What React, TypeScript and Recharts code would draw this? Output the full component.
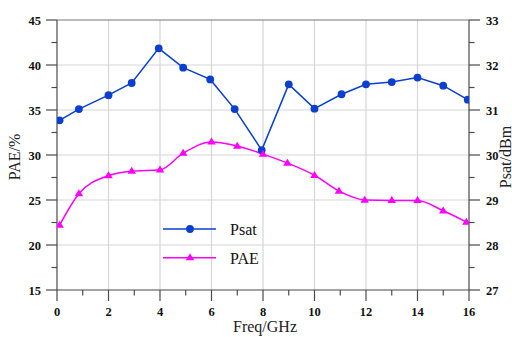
import React from 'react';
import {
  LineChart,
  Line,
  XAxis,
  YAxis,
  CartesianGrid,
  ReferenceLine,
  Legend,
} from 'recharts';

// Saturated output power (dBm) vs frequency (GHz)
const psatFreq = [0.1, 0.85, 2, 2.9, 3.95, 4.9, 5.95, 6.9, 7.95, 9, 10, 11.05, 12, 13, 14, 15, 15.95];
const psatValues = [30.77, 31.02, 31.33, 31.6, 32.37, 31.94, 31.68, 31.02, 30.11, 31.57, 31.03, 31.35, 31.57, 31.62, 31.72, 31.54, 31.23];

// Power-added efficiency (%) vs frequency (GHz)
const paeFreq = [0.1, 0.85, 2, 2.9, 4, 4.9, 6, 7, 8, 8.95, 10, 10.95, 11.95, 13, 14, 15, 15.9];
const paeValues = [22.2, 25.7, 27.7, 28.2, 28.35, 30.2, 31.45, 31.0, 30.1, 29.1, 27.75, 26.0, 25.0, 24.95, 24.95, 23.8, 22.55];

// Axis ticks (majors are labelled, the rest are minor marks)
const freqTicks = [0, 1, 2, 3, 4, 5, 6, 7, 8, 9, 10, 11, 12, 13, 14, 15, 16];
const freqMajor = [0, 2, 4, 6, 8, 10, 12, 14, 16];
const paeTicks = [15, 17.5, 20, 22.5, 25, 27.5, 30, 32.5, 35, 37.5, 40, 42.5, 45];
const paeMajor = [15, 20, 25, 30, 35, 40, 45];
const psatTicks = [27, 27.5, 28, 28.5, 29, 29.5, 30, 30.5, 31, 31.5, 32, 32.5, 33];
const psatMajor = [27, 28, 29, 30, 31, 32, 33];

const psatRows = psatFreq.map((f, i) => ({ freq: f, psat: psatValues[i] }));
const paeRows = paeFreq.map((f, i) => ({ freq: f, pae: paeValues[i] }));

const BLUE = '#0a3fd0';
const MAGENTA = '#ff00ff';
const AXIS = '#4a4a4a';
const SERIF = '"Liberation Serif", "Times New Roman", serif';
const MAJOR_LEN = 11;
const MINOR_LEN = 5.5;

const tickText = {
  fontFamily: SERIF,
  fontSize: 12.5,
  fontWeight: 700,
  fill: '#111',
};

function XTick(props: any) {
  const { x, y, payload } = props;
  const major = freqMajor.includes(payload.value);
  return (
    <g>
      <line x1={x} x2={x} y1={y} y2={y + (major ? MAJOR_LEN : MINOR_LEN)} stroke={AXIS} strokeWidth={1.2} />
      {major && (
        <text x={x} y={y + 26} textAnchor="middle" style={tickText}>
          {payload.value}
        </text>
      )}
    </g>
  );
}

function LeftTick(props: any) {
  const { x, y, payload } = props;
  const major = paeMajor.includes(payload.value);
  return (
    <g>
      <line x1={x} x2={x - (major ? MAJOR_LEN : MINOR_LEN)} y1={y} y2={y} stroke={AXIS} strokeWidth={1.2} />
      {major && (
        <text x={x - 16} y={y + 4.5} textAnchor="end" style={tickText}>
          {payload.value}
        </text>
      )}
    </g>
  );
}

function RightTick(props: any) {
  const { x, y, payload } = props;
  const major = psatMajor.includes(payload.value);
  return (
    <g>
      <line x1={x} x2={x + (major ? MAJOR_LEN : MINOR_LEN)} y1={y} y2={y} stroke={AXIS} strokeWidth={1.2} />
      {major && (
        <text x={x + 17} y={y + 4.5} textAnchor="start" style={tickText}>
          {payload.value}
        </text>
      )}
    </g>
  );
}

const titleStyle = { fontFamily: SERIF, fontSize: 16, fill: '#222' };

function FreqTitle(props: any) {
  const vb = props.viewBox;
  return (
    <text x={vb.x + vb.width / 2 + 2} y={vb.y + 42} textAnchor="middle" style={titleStyle}>
      Freq/GHz
    </text>
  );
}

function PaeTitle(props: any) {
  const vb = props.viewBox;
  const cx = vb.x + 20;
  const cy = vb.y + vb.height / 2 + 2;
  return (
    <text x={cx} y={cy} textAnchor="middle" transform={`rotate(-90 ${cx} ${cy})`} style={titleStyle}>
      PAE/%
    </text>
  );
}

function PsatTitle(props: any) {
  const vb = props.viewBox;
  const cx = vb.x + 41.5;
  const cy = vb.y + vb.height / 2 + 2;
  return (
    <text x={cx} y={cy} textAnchor="middle" transform={`rotate(-90 ${cx} ${cy})`} style={titleStyle}>
      Psat/dBm
    </text>
  );
}

function TriangleDot(props: any) {
  const { cx, cy, fill } = props;
  if (cx == null || cy == null) return null;
  const h = 7;
  const w = 8.5;
  return (
    <polygon
      points={`${cx},${cy - h * 0.62} ${cx - w / 2},${cy + h * 0.38} ${cx + w / 2},${cy + h * 0.38}`}
      fill={fill}
      stroke="none"
    />
  );
}

function CircleDot(props: any) {
  const { cx, cy, fill } = props;
  if (cx == null || cy == null) return null;
  return <circle cx={cx} cy={cy} r={3.9} fill={fill} stroke="none" />;
}

function LegendBox() {
  const items = [
    { name: 'Psat', color: BLUE, shape: 'circle' },
    { name: 'PAE', color: MAGENTA, shape: 'triangle' },
  ];
  return (
    <svg width={130} height={52} style={{ overflow: 'visible', display: 'block' }}>
      {items.map((it, i) => {
        const y = 11 + i * 28.7;
        return (
          <g key={it.name}>
            <line x1={3} x2={56} y1={y} y2={y} stroke={it.color} strokeWidth={1.5} />
            {it.shape === 'circle' ? (
              <CircleDot cx={30} cy={y} fill={it.color} />
            ) : (
              <TriangleDot cx={30} cy={y} fill={it.color} />
            )}
            <text x={70} y={y + 6} style={{ fontFamily: SERIF, fontSize: 16, fill: '#111' }}>
              {it.name}
            </text>
          </g>
        );
      })}
    </svg>
  );
}

export default function App() {
  return (
    <div style={{ position: 'absolute', left: 0, top: 0, width: 512, height: 337, background: '#fff' }}>
      <LineChart width={512} height={337} margin={{ top: 20, right: 0, bottom: 0, left: 0 }}>
        <CartesianGrid
          xAxisId="f"
          yAxisId="pae"
          stroke="#d6d6d6"
          strokeWidth={1.2}
          horizontalValues={[20, 25, 30, 35, 40]}
          verticalValues={[2, 4, 6, 8, 10, 12, 14]}
        />
        <XAxis
          xAxisId="f"
          type="number"
          dataKey="freq"
          domain={[0, 16]}
          ticks={freqTicks}
          interval={0}
          allowDataOverflow
          height={47}
          tickSize={0}
          tickMargin={0}
          tickLine={false}
          axisLine={{ stroke: AXIS, strokeWidth: 1.2 }}
          tick={<XTick />}
          label={<FreqTitle />}
        />
        <YAxis
          yAxisId="pae"
          orientation="left"
          type="number"
          domain={[15, 45]}
          ticks={paeTicks}
          interval={0}
          allowDataOverflow
          width={57}
          tickSize={0}
          tickMargin={0}
          tickLine={false}
          axisLine={{ stroke: AXIS, strokeWidth: 1.2 }}
          tick={<LeftTick />}
          label={<PaeTitle />}
        />
        <YAxis
          yAxisId="psat"
          orientation="right"
          type="number"
          domain={[27, 33]}
          ticks={psatTicks}
          interval={0}
          allowDataOverflow
          width={43}
          tickSize={0}
          tickMargin={0}
          tickLine={false}
          axisLine={{ stroke: AXIS, strokeWidth: 1.2 }}
          tick={<RightTick />}
          label={<PsatTitle />}
        />
        <ReferenceLine xAxisId="f" yAxisId="pae" y={45} stroke="#777" strokeWidth={1.2} />
        <Line
          xAxisId="f"
          yAxisId="psat"
          data={psatRows}
          dataKey="psat"
          name="Psat"
          type="linear"
          stroke={BLUE}
          strokeWidth={1.5}
          dot={<CircleDot fill={BLUE} />}
          activeDot={false}
          isAnimationActive={false}
        />
        <Line
          xAxisId="f"
          yAxisId="pae"
          data={paeRows}
          dataKey="pae"
          name="PAE"
          type="monotone"
          stroke={MAGENTA}
          strokeWidth={1.5}
          dot={<TriangleDot fill={MAGENTA} />}
          activeDot={false}
          isAnimationActive={false}
        />
        <Legend
          layout="horizontal"
          verticalAlign="middle"
          align="center"
          content={<LegendBox />}
          wrapperStyle={{ position: 'absolute', left: 160, top: 218, width: 130, height: 52 }}
        />
      </LineChart>
    </div>
  );
}
